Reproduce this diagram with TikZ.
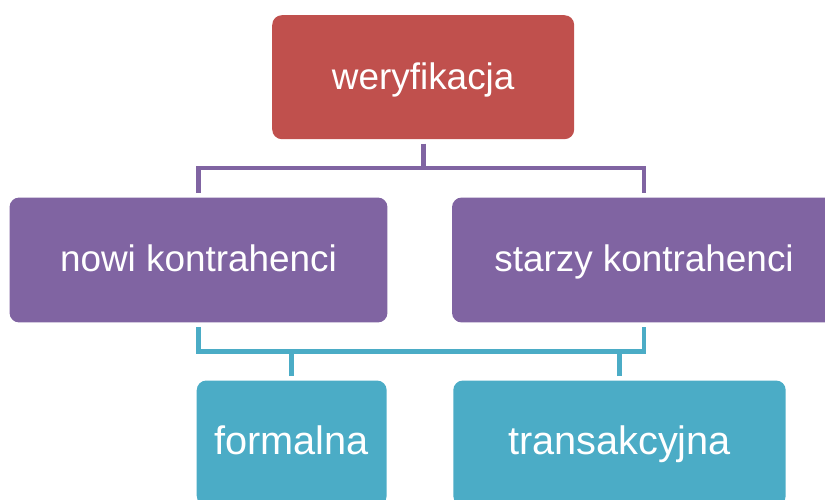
\documentclass[tikz,border=0pt]{standalone}
\usepackage{fontspec}
\setmainfont{Liberation Sans}
\definecolor{verred}{HTML}{C0504D}
\definecolor{kontrpurple}{HTML}{8064A2}
\definecolor{typeteal}{HTML}{4BACC6}
\begin{document}
\begin{tikzpicture}[x=0.02cm,y=-0.02cm,
    box/.style={rectangle,rounded corners=5.5pt,inner sep=0pt,outer sep=2.5pt,
      text=white,font=\fontsize{21}{25}\selectfont,text height=13.5pt,text depth=0pt,
      minimum height=2.5cm},
    lowbox/.style={box,fill=typeteal,font=\fontsize{22.6}{27}\selectfont},
    purpleline/.style={draw=kontrpurple,line width=2.7pt},
    tealline/.style={draw=typeteal,line width=2.7pt}]
      \useasboundingbox (0,0) rectangle (825,500);
      \clip (0,0) rectangle (825,500);
      \node[box,fill=verred,minimum width=6.04cm,minimum height=2.48cm] (ver) at (423.2,77.2) {weryfikacja};
      \node[box,fill=kontrpurple,minimum width=7.56cm] (nowi) at (198.5,260) {nowi kontrahenci};
      \node[box,fill=kontrpurple,minimum width=7.68cm] (starzy) at (644,260) {starzy kontrahenci};
      \node[lowbox,minimum width=3.8cm] (formalna) at (291.7,443) {formalna};
      \node[lowbox,minimum width=6.65cm] (trans) at (619.5,443) {transakcyjna};
      \coordinate (top) at (423.2,168);
      \coordinate (bottom) at (420,351.5);
      \begin{scope}[line join=miter]
        \draw[purpleline] (ver.south) -- (top);
        \draw[purpleline] (nowi.north) |- (top) -| (starzy.north);
        \draw[tealline] (nowi.south) |- (bottom) -| (starzy.south);
        \draw[tealline] (formalna.north) -- (formalna.north |- bottom);
        \draw[tealline] (trans.north) -- (trans.north |- bottom);
      \end{scope}
    \end{tikzpicture}
\end{document}
